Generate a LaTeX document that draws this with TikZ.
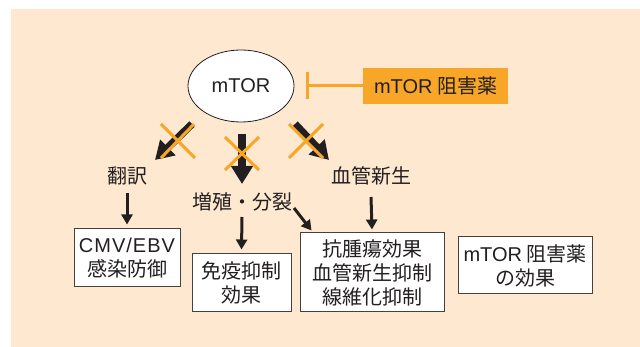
\documentclass[tikz,border=0pt]{standalone}
\usepackage{fontspec}
\setmainfont{Noto Sans CJK JP}
\newfontfamily\latinfont{Liberation Sans}
\usetikzlibrary{arrows.meta,shapes.geometric}
\definecolor{bgpeach}{HTML}{FEE9D0}
\definecolor{orng}{HTML}{F8A627}
\definecolor{ink}{HTML}{231F20}
\tikzset{
  lbl/.style={font=\fontsize{20pt}{24pt}\selectfont, text=ink, inner sep=0pt},
  box/.style={lbl, draw=ink!85, line width=1pt, fill=white, align=center},
  thickarr/.style={draw=ink, line width=7.5pt, -{Triangle[width=21pt,length=18pt]}},
  thinarr/.style={draw=ink, line width=3pt, -{Triangle[width=11pt,length=10pt]}},
  crossln/.style={draw=orng, line width=3pt},
}
\begin{document}
\begin{tikzpicture}[x=1pt,y=-1pt]
\useasboundingbox (0,0) rectangle (640,347);
\fill[white] (0,0) rectangle (640,347);
\fill[bgpeach] (11,9) rectangle (640,347);

% mTOR ellipse
\node[ellipse, draw=ink, line width=0.8pt, fill=white, minimum width=106pt, minimum height=72pt, inner sep=0pt, lbl] (mtor) at (241,86) {{\latinfont mTOR}};

% inhibitor
\node[lbl, fill=orng, minimum width=145pt, minimum height=36pt] (inh) at (435.5,86) {{\latinfont mTOR} 阻害薬};
\coordinate (bar) at (306,86);
\draw[orng, line width=3pt, -{Bar[width=27pt]}] (inh.west) -- (bar);

% labels
\node[lbl] (t1) at (127,176) {翻訳};
\node[lbl] (t2) at (242,202) {増殖・分裂};
\node[lbl] (t3) at (371,176) {血管新生};

% boxes
\node[box, minimum width=106pt, minimum height=58pt] (b1) at (127,258) {{\latinfont\addfontfeature{LetterSpace=5}CMV/EBV}\\感染防御};
\node[box, minimum width=99pt, minimum height=58pt] (b2) at (241.5,283) {免疫抑制\\効果};
\node[box, minimum width=144pt, minimum height=79pt] (b3) at (372,272.5) {抗腫瘍効果\\血管新生抑制\\線維化抑制};
\node[box, minimum width=134pt, minimum height=57pt] (b4) at (525,265.5) {{\latinfont mTOR} 阻害薬\\の効果};

% thick arrows from mTOR
\coordinate (s1) at (192,124);
\coordinate (s2) at (242,134);
\coordinate (s3) at (295,124);
\coordinate (e1) at (155,160);
\coordinate (e2) at (242,184);
\coordinate (e3) at (329,160);
\draw[thickarr] (s1) -- (e1);
\draw[thickarr] (s2) -- (e2);
\draw[thickarr] (s3) -- (e3);

% crosses
\draw[crossln] (161,124) -- (195,158);
\draw[crossln] (194,124) -- (161,158);
\draw[crossln] (225,137) -- (259,170);
\draw[crossln] (259,137) -- (225,170);
\draw[crossln] (289,124) -- (323,158);
\draw[crossln] (323,124) -- (289,158);

% thin arrows
\draw[thinarr] ([yshift=-17pt]t1.center) -- ([yshift=4pt]b1.north);
\draw[thinarr] ([yshift=-15pt]t2.center) -- ([yshift=4pt]b2.north);
\draw[thinarr] ([shift={(52pt,-6pt)}]t2.center) -- ([shift={(12pt,2pt)}]b3.north west);
\draw[thinarr] ([yshift=-21pt]t3.center) -- ([yshift=3pt]b3.north);
\end{tikzpicture}
\end{document}
